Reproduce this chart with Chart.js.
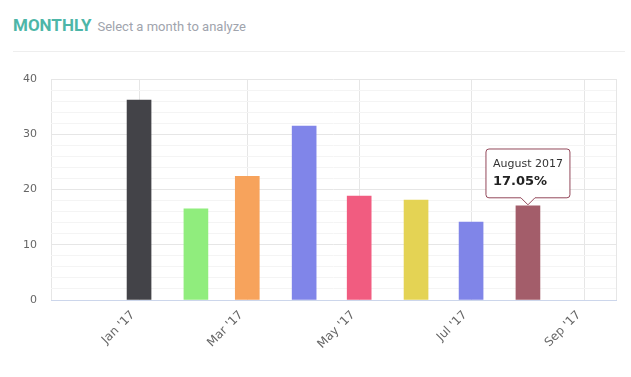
<!DOCTYPE html>
<html>
<head>
<meta charset="utf-8">
<script src="https://cdn.jsdelivr.net/npm/chart.js@4.4.1/dist/chart.umd.min.js"></script>
<style>
  html, body { margin: 0; padding: 0; background: #fff; }
  #wrap { position: relative; width: 631px; height: 377px; overflow: hidden; }
  #head { position: absolute; left: 13px; top: 15px; width: 612px; height: 36px; border-bottom: 1px solid #eeeeee; }
  #head b { color: #4db6a8; font-size: 17px; font-family: Roboto, sans-serif; font-weight: bold; }
  #head span { color: #a0a4ad; font-size: 13px; font-family: Roboto, sans-serif; margin-left: 2px; }
  #chart { position: absolute; left: 0; top: 0; }
</style>
</head>
<body>
<div id="wrap">
  <div id="head"><b>MONTHLY</b> <span>Select a month to analyze</span></div>
  <canvas id="chart" width="631" height="377"></canvas>
</div>
<script>
    // Data
    const months = ['2017-01-01', '2017-02-01', '2017-03-01', '2017-04-01', '2017-05-01', '2017-06-01', '2017-07-01', '2017-08-01'];
    const monthNames = ['January 2017', 'February 2017', 'March 2017', 'April 2017', 'May 2017', 'June 2017', 'July 2017', 'August 2017'];
    const values = [36.2, 16.5, 22.4, 31.5, 18.8, 18.1, 14.1, 17.05];
    const barColors = ['#434348', '#90ed7d', '#f7a35c', '#8085e9', '#f15c80', '#e4d354', '#8085e8', '#a35d6a'];
    const tickDates = ['2017-01-01', '2017-03-01', '2017-05-01', '2017-07-01', '2017-09-01'];
    const tickLabels = ["Jan '17", "Mar '17", "May '17", "Jul '17", "Sep '17"];
    const yTicks = [0, 10, 20, 30, 40];

    // days since Jan 1st 2017
    function dayOf(s) {
      const p = s.split('-').map(Number);
      return (Date.UTC(p[0], p[1] - 1, p[2]) - Date.UTC(2017, 0, 1)) / 86400000;
    }

    const xMin = -48, xMax = 260;
    const tickDays = tickDates.map(dayOf);

    const ctx = document.getElementById('chart').getContext('2d');
    const chart = new Chart(ctx, {
      type: 'bar',
      data: {
        datasets: [{
          data: months.map((m, i) => ({ x: dayOf(m), y: values[i] })),
          backgroundColor: barColors,
          hoverBackgroundColor: barColors,
          borderWidth: 0,
          barThickness: 24
        }]
      },
      options: {
        responsive: false,
        animation: false,
        layout: { padding: { left: 0, right: 15, top: 79, bottom: 0 } },
        events: [],
        scales: {
          x: {
            type: 'linear',
            offset: false,
            min: xMin,
            max: xMax,
            afterBuildTicks: function(scale) {
              scale.ticks = [xMin].concat(tickDays, [xMax]).map(v => ({ value: v }));
            },
            afterFit: function(scale) {
              scale.height = 77;
              scale.paddingLeft = 0;
              scale.paddingRight = 0;
            },
            grid: {
              drawTicks: false,
              offset: false,
              color: '#e6e6e6'
            },
            border: { color: '#ccd6eb', width: 1 },
            ticks: {
              autoSkip: false,
              maxRotation: 45,
              minRotation: 45,
              padding: 8,
              labelOffset: -6,
              color: '#666666',
              font: { family: 'DejaVu Sans', size: 12 },
              callback: function(v) {
                const i = tickDays.indexOf(v);
                return i >= 0 ? tickLabels[i] : '';
              }
            }
          },
          y: {
            min: 0,
            max: 40,
            afterBuildTicks: function(scale) {
              const t = [];
              for (let v = 0; v <= 40; v += 2) t.push({ value: v });
              scale.ticks = t;
            },
            afterFit: function(scale) { scale.width = 51; },
            grid: {
              drawTicks: false,
              color: function(c) { return c.tick.value % 10 === 0 ? '#e6e6e6' : '#f4f4f4'; }
            },
            border: { display: false },
            ticks: {
              autoSkip: false,
              padding: 14,
              color: '#666666',
              font: { family: 'DejaVu Sans', size: 11 },
              callback: function(v) { return yTicks.indexOf(v) >= 0 ? v : ''; }
            }
          }
        },
        plugins: {
          legend: { display: false },
          tooltip: {
            enabled: true,
            yAlign: 'bottom',
            xAlign: 'center',
            backgroundColor: 'rgba(255, 255, 255, 0.96)',
            borderColor: '#93485a',
            borderWidth: 1,
            cornerRadius: 3,
            caretSize: 7,
            caretPadding: 1,
            padding: { left: 7, right: 7, top: 9, bottom: 8 },
            displayColors: false,
            titleColor: '#333333',
            titleFont: { family: 'DejaVu Sans', size: 11, weight: 'normal' },
            titleMarginBottom: 3,
            bodyColor: '#222222',
            bodyFont: { family: 'DejaVu Sans', size: 13, weight: 'bold' },
            callbacks: {
              title: function(items) { return monthNames[items[0].dataIndex]; },
              label: function(item) { return values[item.dataIndex].toFixed(2) + '%'; }
            }
          }
        }
      }
    });

    // show the August tooltip
    chart.tooltip.setActiveElements([{ datasetIndex: 0, index: 7 }], { x: 0, y: 0 });
    chart.update();
</script>
</body>
</html>
